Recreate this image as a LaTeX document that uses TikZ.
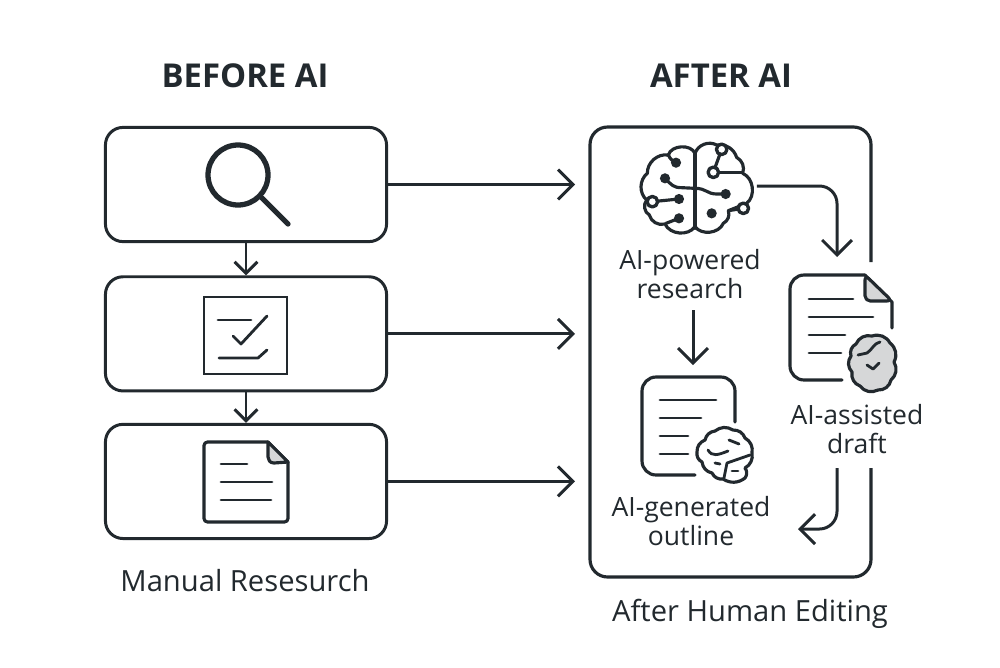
\documentclass[tikz,border=0pt]{standalone}
\usepackage{fontspec}
\setmainfont{Open Sans}
\usetikzlibrary{positioning,arrows.meta}
\definecolor{ink}{HTML}{22292E}
\definecolor{foldgray}{HTML}{D6D7D8}

\begin{document}
\begin{tikzpicture}[x=0.02cm,y=-0.02cm,line join=round,
    panel/.style={rectangle,draw=ink,line width=1.7pt,rounded corners=10pt,minimum width=160pt,minimum height=65pt,inner sep=0pt},
    heading/.style={text=ink,font=\fontsize{18.7}{22}\selectfont\bfseries},
    caption/.style={text=ink,font=\fontsize{16.6}{19}\selectfont},
    label/.style={text=ink,font=\fontsize{15.1}{16.5}\selectfont},
    icon/.style={draw=ink,line width=1.8pt,line cap=round},
    thin icon/.style={draw=ink,line width=1.6pt,line cap=round},
    bigarrow/.style={draw=ink,line width=1.7pt,-{Straight Barb[length=8.5pt,width=17pt,line width=1.7pt]}},
    smallarrow/.style={draw=ink,line width=1.7pt,-{Straight Barb[length=6.5pt,width=13pt,line width=1.7pt]}},
    hole/.style={circle,draw=ink,fill=white,line width=1.9pt,inner sep=0pt,minimum size=6pt},
    dot/.style={circle,fill=ink,inner sep=0pt,minimum size=5.8pt}]
\useasboundingbox (0,0) rectangle (1000,667);

% left column
\node [heading] (before) at (245,76) {BEFORE AI};
\node [panel] (search) at (246,184.5) {};
\node [panel,below=18.3pt of search] (tasks) {};
\node [panel,below=17.3pt of tasks] (notes) {};
\node [caption] (manual) at (245,581) {Manual Resesurch};

\draw [smallarrow] (search) -- (tasks);
\draw [smallarrow] (tasks) -- (notes);

% magnifier
\draw [ink,line width=3pt] (238,175) circle (30);
\draw [ink,line width=3pt,line cap=round] (262,198) -- (288,224);

% checklist
\draw [thin icon,line cap=butt,line join=miter] (204,297) rectangle (287,374);
\draw [thin icon] (218,320) -- (251,320);
\draw [thin icon] (233,336) -- (241,344) -- (267,316);
\draw [thin icon] (219,358) -- (258,358) -- (267,350);

% page
\draw [icon,rounded corners=2pt] (268,442) -- (204,442) -- (204,522) -- (288,522) -- (288,462);
\draw [icon] (268,442) -- (288,462);
\draw [icon,fill=foldgray] (268,442) -- (268,457) .. controls (268,460) and (270,463) .. (274,463) -- (288,462) -- cycle;
\draw [thin icon] (221,464) -- (247,464);
\draw [thin icon] (221,482) -- (272,482);
\draw [thin icon] (221,500) -- (271,500);

% right column
\node [heading] (after) at (721,76) {AFTER AI};
\coordinate (frameend) at (871,262);
\coordinate (framestart) at (871,468);
\draw [icon,line cap=butt,rounded corners=10pt] (frameend) |- (590,127) |- (871,577) -- (framestart);
\node [caption] (edited) at (750,614) {After Human Editing};

\node [minimum width=70pt,minimum height=50pt,inner sep=0pt] (brain) at (695,186) {};
\node [label] (research) at (690,278) {\begin{tabular}{c}AI-powered \\ research\end{tabular}};
\node [label] (outline) at (691,525) {\begin{tabular}{c}AI-generated \\ outline\end{tabular}};
\node [label] (draft) at (857,433) {\begin{tabular}{c}AI-assisted \\ draft\end{tabular}};

\coordinate (inlet) at (575,185);
\coordinate (draftin) at (837,257);
\coordinate (outlinein) at (693,365);
\coordinate (draftout) at (837,468);
\coordinate (outlineback) at (798,529);
\coordinate (researchout) at (693,310);

\draw [bigarrow] (search.east) -- (search.east -| inlet);
\draw [bigarrow] (tasks.east) -- (tasks.east -| inlet);
\draw [bigarrow] (notes.east) -- (notes.east -| inlet);
\draw [bigarrow,rounded corners=10pt] (brain.east) -| (draftin);
\draw [bigarrow] (researchout) -- (outlinein);
\draw [bigarrow,rounded corners=10pt] (draftout) |- (outlineback);

% brain
\begin{scope}[shift={(590,120)},x=0.00667cm,y=-0.00667cm]
\draw [icon] (315,325) -- (315,100);
\draw [icon] (315,100) to[bend right=70] (235,105) to[bend right=50] (172,160) to[bend right=50] (170,240)
  to[bend right=50] (178,285) to[bend right=45] (225,312) to[bend right=60] (315,320);
\draw [icon] (315,100) to[bend left=50] (380,75) to[bend left=40] (440,112) to[bend left=40] (458,160)
  to[bend left=60] (470,250) to (415,272) to[bend left=40] (400,310) to[bend left=60] (315,320);
\draw [icon] (258,128) to[bend left=20] (235,105);
\draw [icon] (225,175) .. controls (245,195) and (250,203) .. (275,203) -- (315,205)
  .. controls (350,205) and (350,222) .. (380,222) -- (407,222);
\draw [icon] (187,245) -- (267,237);
\draw [icon] (267,295) -- (228,310);
\draw [icon] (370,157) -- (395,88);
\draw [icon] (370,157) -- (457,157);
\draw [icon] (415,272) -- (460,265);
\node [dot] (n1) at (258,128) {};
\node [dot] (n2) at (225,175) {};
\node [dot] (n3) at (407,222) {};
\node [dot] (n4) at (267,237) {};
\node [dot] (n5) at (267,295) {};
\node [dot] (n6) at (365,280) {};
\node [hole] (h1) at (395,88) {};
\node [hole] (h2) at (370,157) {};
\node [hole] (h3) at (187,245) {};
\node [hole] (h4) at (460,265) {};
\end{scope}

% draft page
\draw [icon,rounded corners=8pt] (842,380) -- (790,380) -- (790,275) -- (865,275);
\draw [icon] (865,275) -- (892,302) -- (892,328);
\draw [icon,fill=foldgray,rounded corners=3pt] (865,275) -- (865,301) -- (892,301) -- cycle;
\draw [thin icon] (809,299) -- (853,299);
\draw [thin icon] (809,317) -- (873,317);
\draw [thin icon] (809,335) -- (845,335);
\draw [thin icon] (809,353) -- (841,353);
\draw [icon,fill=foldgray] (856,344) to[bend left=40] (872,336) to[bend left=40] (890,343) to[bend left=40] (894,362)
  to[bend left=40] (891,380) to[bend left=40] (878,390) to[bend left=40] (860,386) to[bend left=40] (852,372)
  to[bend left=40] (851,356) to[bend left=40] cycle;
\draw [thin icon] (858,355) -- (867,353) .. controls (872,350) and (874,343) .. (880,342);
\draw [thin icon] (867,365) -- (873,369) -- (879,363);

% outline page
\draw [icon,rounded corners=8pt] (695,475) -- (642,475) -- (642,377) -- (735,377) -- (735,422);
\draw [thin icon] (660,400) -- (716,400);
\draw [thin icon] (660,418) -- (701,418);
\draw [thin icon] (660,436) -- (688,436);
\draw [thin icon] (660,454) -- (688,454);
\draw [icon,fill=white] (705,440) to[bend left=35] (715,431) to[bend left=35] (733,430) to[bend left=35] (745,438)
  to[bend left=35] (752,453) to[bend left=35] (745,468) to[bend left=35] (745,478) to[bend left=35] (723,479)
  to[bend left=35] (712,473) to[bend left=35] (702,462) to[bend left=35] (697,452) to[bend left=35] cycle;
\draw [thin icon] (708,450) .. controls (712,457) and (718,455) .. (728,451);
\draw [thin icon] (729,440) -- (739,444);
\draw [thin icon] (715,463) -- (720,464);
\draw [thin icon] (750,455) -- (727,463) -- (724,478);
\draw [thin icon] (732,471) -- (738,471);
\end{tikzpicture}
\end{document}
